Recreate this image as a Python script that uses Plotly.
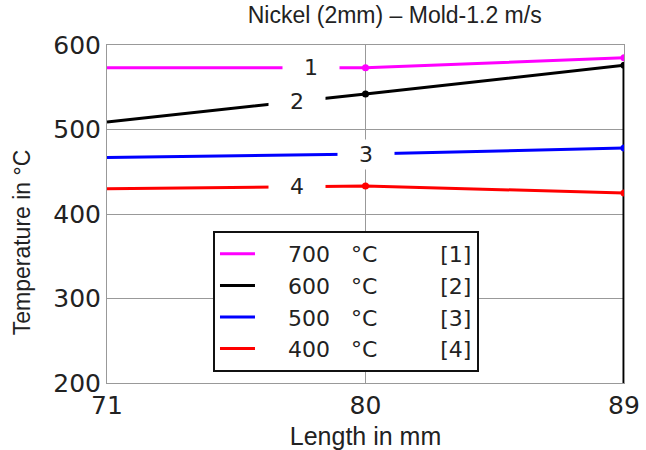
import plotly.graph_objects as go

# Mold temperature along the strand, nickel 2 mm, 1.2 m/s
length_mm = [71, 80, 89]
t700 = [573, 573, 585]
t600 = [509, 542, 576]
t500 = [467, 471, 478]
t400 = [430, 433, 425]

series_names = [
    "    700   °C         [1]",
    "    600   °C         [2]",
    "    500   °C         [3]",
    "    400   °C         [4]",
]
series_colors = ["#ff00ff", "#000000", "#0000ff", "#ff0000"]
series_values = [t700, t600, t500, t400]
label_text = ["1", "2", "3", "4"]
label_x = [78.1, 77.6, 80.0, 77.6]

x_ticks = [71, 80, 89]
y_ticks = [200, 300, 400, 500, 600]

fig = go.Figure()

for name, color, vals in zip(series_names, series_colors, series_values):
    xs = list(length_mm)
    ys = list(vals)
    if color == "#000000":
        # black curve drops down along the right edge
        xs = xs + [89]
        ys = ys + [200]
    fig.add_trace(go.Scatter(
        x=xs, y=ys, name=name, mode="lines",
        line=dict(color=color, width=3),
    ))
    # point markers at 80 and 89 mm
    fig.add_trace(go.Scatter(
        x=length_mm[1:], y=vals[1:], mode="markers", showlegend=False,
        marker=dict(color=color, size=7), hoverinfo="skip",
    ))

# inline curve numbers on a white patch that breaks the line
for txt, lx, vals in zip(label_text, label_x, series_values):
    if lx <= 80:
        ly = vals[0] + (vals[1] - vals[0]) * (lx - 71) / 9
    else:
        ly = vals[1] + (vals[2] - vals[1]) * (lx - 80) / 9
    fig.add_annotation(
        x=lx, y=ly, text=txt, showarrow=False,
        font=dict(family="DejaVu Sans", size=22, color="#222222"),
        bgcolor="white", borderpad=2, width=52,
    )

# y-axis title placed as a rotated annotation
fig.add_annotation(
    xref="paper", yref="paper", x=-0.164, y=0.417,
    xanchor="center", yanchor="middle", textangle=-90,
    text="Temperature in °C", showarrow=False,
    font=dict(family="Liberation Sans", size=23, color="#222222"),
)

fig.update_layout(
    width=646, height=450,
    margin=dict(l=107, r=22, t=45, b=67),
    paper_bgcolor="white", plot_bgcolor="white",
    title=dict(text="Nickel (2mm) – Mold-1.2 m/s", x=0.611, xanchor="center",
               y=0.985, yanchor="top",
               font=dict(family="Liberation Sans", size=23, color="#222222")),
    showlegend=True,
    legend=dict(x=0.205, y=0.4497, xanchor="left", yanchor="top",
                bgcolor="white", bordercolor="#111111", borderwidth=2,
                font=dict(family="DejaVu Sans", size=22, color="#222222"),
                itemwidth=35, tracegroupgap=0),
)

fig.update_xaxes(
    range=[71, 89], tickvals=x_ticks, ticktext=[str(v) for v in x_ticks],
    showgrid=True, gridcolor="#999999", gridwidth=1,
    showline=True, linecolor="#999999", mirror=True,
    zeroline=False, ticks="", automargin=False,
    tickfont=dict(family="DejaVu Sans", size=25, color="#222222"),
    title=dict(text="Length in mm", standoff=12,
               font=dict(family="Liberation Sans", size=25, color="#222222")),
)
fig.update_yaxes(
    range=[200, 600], tickvals=y_ticks, ticktext=[str(v) for v in y_ticks],
    showgrid=True, gridcolor="#999999", gridwidth=1,
    showline=True, linecolor="#999999", mirror=True,
    zeroline=False, ticks="", automargin=False,
    tickfont=dict(family="DejaVu Sans", size=25, color="#222222"),
)

fig.write_html("out.html")
